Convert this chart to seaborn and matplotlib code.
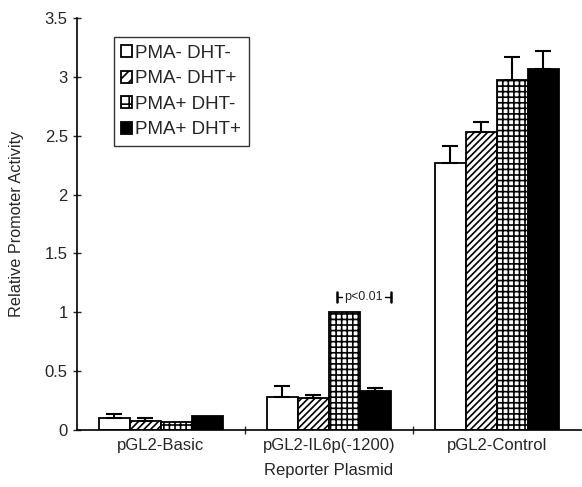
import numpy as np
import pandas as pd
import seaborn as sns
import matplotlib.pyplot as plt

plasmids = ["pGL2-Basic", "pGL2-IL6p(-1200)", "pGL2-Control"]
treatments = ["PMA- DHT-", "PMA- DHT+", "PMA+ DHT-", "PMA+ DHT+"]
vals_basic = [0.10, 0.08, 0.07, 0.12]
vals_il6 = [0.28, 0.27, 1.00, 0.33]
vals_control = [2.27, 2.53, 2.97, 3.07]
err_basic = [0.035, 0.025, 0.0, 0.0]
err_il6 = [0.095, 0.03, 0.0, 0.025]
err_control = [0.14, 0.09, 0.20, 0.15]

sns.set_style("ticks")
plt.rcParams["font.family"] = ["Liberation Sans", "DejaVu Sans"]
plt.rcParams["hatch.linewidth"] = 1.2

rows = []
for p, vs, es in zip(plasmids, [vals_basic, vals_il6, vals_control],
                     [err_basic, err_il6, err_control]):
    for t, v, e in zip(treatments, vs, es):
        rows.append({"plasmid": p, "treatment": t, "value": v, "err": e})
df = pd.DataFrame(rows)

fig = plt.figure(figsize=(5.82, 4.87), dpi=100)
ax = fig.add_axes([0.132, 0.117, 0.866, 0.846])

sns.barplot(data=df, x="plasmid", y="value", hue="treatment",
            order=plasmids, hue_order=treatments,
            palette=["white", "white", "white", "black"],
            errorbar=None, width=0.74, edgecolor="black", linewidth=1.3,
            saturation=1, ax=ax)

hatches = ["", "/////", "+++", ""]
for cont, h, t in zip(ax.containers, hatches, treatments):
    sub = df[df["treatment"] == t].set_index("plasmid").loc[plasmids]
    for bar, e in zip(cont, sub["err"]):
        bar.set_hatch(h)
        if e > 0:
            cx = bar.get_x() + bar.get_width() / 2
            ax.errorbar(cx, bar.get_height(), yerr=[[0], [e]], fmt="none",
                        ecolor="black", elinewidth=1.5, capsize=6, capthick=1.5)

# significance bracket
grid_bar = ax.containers[2][1]
black_bar = ax.containers[3][1]
x0 = grid_bar.get_x() + grid_bar.get_width() * 0.25
x1 = black_bar.get_x() + black_bar.get_width()
yb = 1.13
ax.text((x0 + x1) / 2, yb, "p<0.01", ha="center", va="center", fontsize=9)
ax.plot([x0, x0 + 0.035], [yb, yb], color="black", lw=1)
ax.plot([x1 - 0.035, x1], [yb, yb], color="black", lw=1)
ax.plot([x0, x0], [yb - 0.045, yb + 0.045], color="black", lw=1.8)
ax.plot([x1, x1], [yb - 0.045, yb + 0.045], color="black", lw=1.8)

ax.set_xlim(-0.5, 2.5)
ax.set_ylim(0, 3.5)
ax.set_yticks(np.arange(0, 3.51, 0.5))
ax.set_yticklabels(["0", "0.5", "1", "1.5", "2", "2.5", "3", "3.5"])
ax.tick_params(axis="y", direction="inout", length=6, labelsize=12, width=1)
ax.set_xticks([0, 1, 2])
ax.set_xticks([0.5, 1.5], minor=True)
ax.tick_params(axis="x", which="major", length=0, labelsize=12, pad=6)
ax.tick_params(axis="x", which="minor", direction="inout", length=6, width=1)
ax.set_xlabel("Reporter Plasmid", fontsize=12, labelpad=7)
ax.set_ylabel("Relative Promoter Activity", fontsize=11.7)
ax.yaxis.set_label_coords(-0.105, 0.5)
sns.despine(ax=ax)
for s in ["left", "bottom"]:
    ax.spines[s].set_linewidth(1.2)
    ax.spines[s].set_color("black")

leg = ax.legend(loc="upper left", bbox_to_anchor=(0.073, 0.953), fontsize=13.5,
                handlelength=0.6, handleheight=0.6, handletextpad=0.15,
                labelspacing=0.45, borderpad=0.4, fancybox=False,
                frameon=True, edgecolor="black", borderaxespad=0)
leg.get_frame().set_linewidth(1)
for hdl, h in zip(leg.legend_handles, hatches):
    hdl.set_hatch(h.replace("/////", "///").replace("+++", "++"))

fig.savefig("out.png", dpi=100)
